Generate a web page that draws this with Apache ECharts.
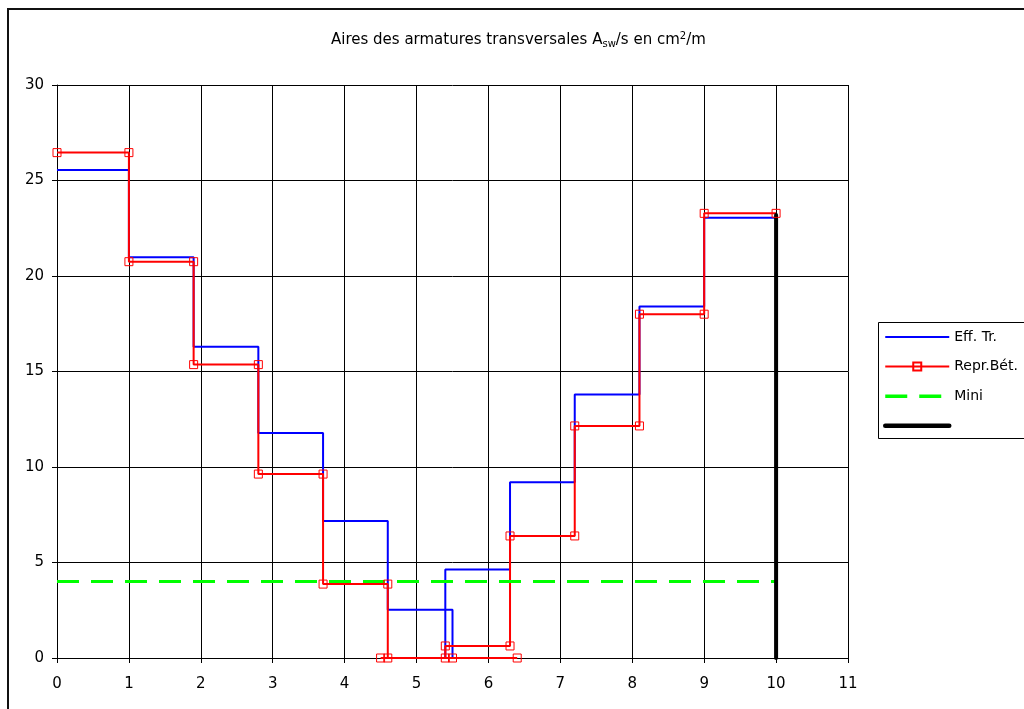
<!DOCTYPE html>
<html>
<head>
<meta charset="utf-8">
<script src="https://cdn.jsdelivr.net/npm/echarts@6/dist/echarts.min.js"></script>
<style>html,body{margin:0;padding:0;background:#fff}#c{width:1024px;height:709px}</style>
</head>
<body>
<div id="c"></div>
<script>
// Eff. Tr. (blue step line)
const effX = [0, 1, 1, 1.9, 1.9, 2.8, 2.8, 3.7, 3.7, 4.6, 4.6, 5.5, 5.5, 5.4, 5.4, 6.3, 6.3, 7.2, 7.2, 8.1, 8.1, 9, 9, 10];
const effY = [25.55, 25.55, 20.98, 20.98, 16.3, 16.3, 11.78, 11.78, 7.17, 7.17, 2.52, 2.52, 0, 0, 4.64, 4.64, 9.2, 9.2, 13.8, 13.8, 18.4, 18.4, 23.05, 23.05];
// Repr.Bét. (red step line with markers)
const repX = [0, 1, 1, 1.9, 1.9, 2.8, 2.8, 3.7, 3.7, 4.6, 4.6, 4.5, 5.5, 6.4, 5.4, 5.4, 6.3, 6.3, 7.2, 7.2, 8.1, 8.1, 9, 9, 10];
const repY = [26.46, 26.46, 20.75, 20.75, 15.36, 15.36, 9.63, 9.63, 3.87, 3.87, 0, 0, 0, 0, 0, 0.63, 0.63, 6.39, 6.39, 12.15, 12.15, 18.0, 18.0, 23.28, 23.28];
// Mini
const miniX = [0, 10];
const miniY = [4, 4];
// black vertical
const endX = [10, 10];
const endY = [0, 23.2];

const xTicks = { min: 0, max: 11, interval: 1 };
const yTicks = { min: 0, max: 30, interval: 5 };

function pairs(xs, ys) { return xs.map((x, i) => [x, ys[i]]); }

const FONT = 'DejaVu Sans, Liberation Sans, Arial, sans-serif';
const NOFILL = 'rgba(0,0,0,0)';
const chart = echarts.init(document.getElementById('c'), null, { renderer: 'canvas' });
chart.setOption({
  animation: false,
  backgroundColor: '#fff',
  title: {
    left: 331, top: 31, padding: 0,
    text: '{t|Aires des armatures transversales A}{sub|sw}{t|/s en cm}{sup|2}{t|/m}',
    textStyle: {
      fontWeight: 'normal',
      rich: {
        t: { fontSize: 15, fontFamily: FONT, fontWeight: 'normal', color: '#000', lineHeight: 18 },
        sub: { fontSize: 10, fontFamily: FONT, fontWeight: 'normal', color: '#000', lineHeight: 10, verticalAlign: 'bottom' },
        sup: { fontSize: 10, fontFamily: FONT, fontWeight: 'normal', color: '#000', lineHeight: 10, verticalAlign: 'top' }
      }
    }
  },
  legend: {
    left: 883, top: 330, orient: 'vertical', padding: 0,
    itemWidth: 64, itemHeight: 10, itemGap: 15.6,
    textStyle: { fontSize: 14, fontFamily: FONT, color: '#000', lineHeight: 14, padding: [0, 0, 0, 0] },
    data: [
      { name: 'Eff. Tr.', lineStyle: { width: 2 } },
      { name: 'Repr.Bét.', lineStyle: { width: 2 } },
      { name: 'Mini', lineStyle: { width: 3.5 } },
      { name: ' ', lineStyle: { width: 4.5, cap: 'round' } }
    ]
  },
  graphic: [
    { type: 'rect', shape: { x: 8, y: 9, width: 1100, height: 800 }, style: { fill: 'none', stroke: '#111', lineWidth: 2 }, silent: true, z: 100 },
    { type: 'rect', shape: { x: 878.5, y: 322.5, width: 200, height: 116 }, style: { fill: 'none', stroke: '#000', lineWidth: 1 }, silent: true, z: 100 }
  ],
  grid: { left: 57, top: 85, right: 176, bottom: 51, containLabel: false },
  xAxis: {
    type: 'value', min: xTicks.min, max: xTicks.max, interval: xTicks.interval,
    axisLine: { show: true, lineStyle: { color: '#000', width: 1 } },
    axisTick: { show: true, length: 5, lineStyle: { color: '#000' } },
    axisLabel: { color: '#000', fontSize: 15, fontFamily: FONT, margin: 19 },
    splitLine: { show: true, lineStyle: { color: '#000', width: 1 } }
  },
  yAxis: {
    type: 'value', min: yTicks.min, max: yTicks.max, interval: yTicks.interval,
    axisLine: { show: true, lineStyle: { color: '#000', width: 1 } },
    axisTick: { show: true, length: 5, lineStyle: { color: '#000' } },
    axisLabel: { color: '#000', fontSize: 15, fontFamily: FONT, margin: 13 },
    splitLine: { show: true, lineStyle: { color: '#000', width: 1 } }
  },
  series: [
    {
      name: 'Eff. Tr.', type: 'line', data: pairs(effX, effY), symbol: 'none',
      lineStyle: { color: '#0000ff', width: 2 }, itemStyle: { color: NOFILL, borderWidth: 0 }
    },
    {
      name: 'Repr.Bét.', type: 'line', data: pairs(repX, repY), symbol: 'rect', symbolSize: 8,
      lineStyle: { color: '#ff0000', width: 2 },
      itemStyle: { color: NOFILL, borderColor: '#ff0000', borderWidth: 1 }
    },
    {
      name: 'Mini', type: 'line', data: pairs(miniX, miniY), symbol: 'none',
      lineStyle: { color: '#00ff00', width: 3, type: [22, 12] }, itemStyle: { color: NOFILL, borderWidth: 0 }
    },
    {
      name: ' ', type: 'line', data: pairs(endX, endY), symbol: 'none',
      lineStyle: { color: '#000', width: 4, cap: 'round' }, itemStyle: { color: NOFILL, borderWidth: 0 }
    }
  ]
});
</script>
</body>
</html>
